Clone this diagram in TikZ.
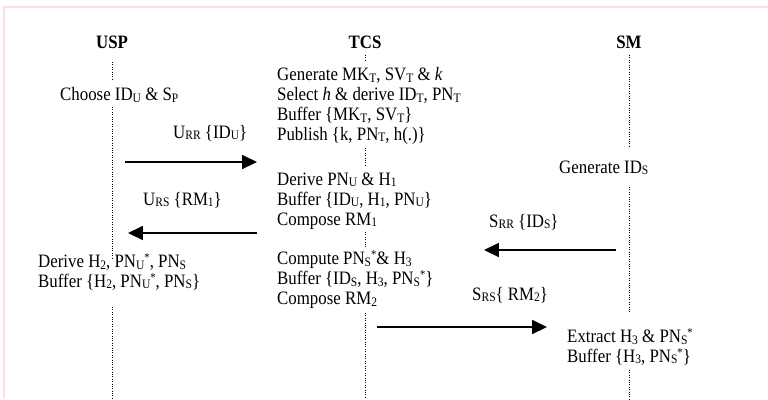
\documentclass[tikz,border=0pt]{standalone}
\usepackage{fontspec}
\setmainfont{Liberation Serif}[FakeStretch=0.89]
\usetikzlibrary{arrows.meta}
\newcommand{\sub}[1]{\raisebox{-1.5bp}{\fontsize{13}{13}\selectfont #1}}
\newcommand{\st}{\raisebox{6bp}{\fontsize{12}{12}\selectfont *}}
\tikzset{
  party/.style={font=\fontsize{19}{20}\selectfont\bfseries, inner sep=0pt},
  action/.style={font=\fontsize{19}{20}\selectfont, align=left, anchor=west, inner sep=0pt},
  msglabel/.style={font=\fontsize{19}{20}\selectfont, anchor=west, inner sep=0pt},
  lifeline/.style={line width=1pt, dash pattern=on 1pt off 1.4pt},
  msgarrow/.style={-{Triangle[length=15pt, width=14pt]}, line width=2pt},
  frameline/.style={draw=red!12, line width=1.5pt}
}
\begin{document}
\begin{tikzpicture}[x=1bp, y=-1bp]
  \useasboundingbox (0,0) rectangle (768,399);
  \draw[frameline] (4,399) -- (4,7) -- (768,7);

  % parties
  \node[party] (usp) at (112,42) {USP};
  \node[party] (tcs) at (365,42) {TCS};
  \node[party] (sm) at (629,42) {SM};

  % lifelines
  \foreach \x/\a/\b in {112/62/79, 112/107/258, 112/307/399,
                        365/55/62, 365/148/165, 365/232/248, 365/313/399,
                        629/55/147, 629/187/313, 629/370/399}
    \draw[lifeline] (\x,\a) -- (\x,\b);

  % USP side
  \node[action] (uchoose) at (60,95) {Choose ID\sub{U} \& S\sub{P}};
  \node[action] (uderive) at (38,272) {Derive H\sub{2}, PN\sub{U}\st, PN\sub{S}\\
    Buffer \{H\sub{2}, PN\sub{U}\st, PN\sub{S}\}};

  % TCS side
  \node[action] (tsetup) at (277,106) {Generate MK\sub{T}, SV\sub{T} \& \textit{k}\\
    Select \textit{h} \& derive ID\sub{T}, PN\sub{T}\\
    Buffer \{MK\sub{T}, SV\sub{T}\}\\
    Publish \{k, PN\sub{T}, h(.)\}};
  \node[action] (tuser) at (277,201) {Derive PN\sub{U} \& H\sub{1}\\
    Buffer \{ID\sub{U}, H\sub{1}, PN\sub{U}\}\\
    Compose RM\sub{1}};
  \node[action] (tsm) at (277,280) {Compute PN\sub{S}\st\& H\sub{3}\\
    Buffer \{ID\sub{S}, H\sub{3}, PN\sub{S}\st\}\\
    Compose RM\sub{2}};

  % SM side
  \node[action] (sgen) at (559,168) {Generate ID\sub{S}};
  \node[action] (sextract) at (567,347) {Extract H\sub{3} \& PN\sub{S}\st\\
    Buffer \{H\sub{3}, PN\sub{S}\st\}};

  % messages
  \coordinate (urr1) at (125,162);
  \coordinate (urr2) at (257,162);
  \coordinate (urs1) at (257,233);
  \coordinate (urs2) at (128,233);
  \coordinate (srr1) at (616,250);
  \coordinate (srr2) at (484,250);
  \coordinate (srs1) at (377,327);
  \coordinate (srs2) at (547,327);
  \draw[msgarrow] (urr1) -- (urr2);
  \draw[msgarrow] (urs1) -- (urs2);
  \draw[msgarrow] (srr1) -- (srr2);
  \draw[msgarrow] (srs1) -- (srs2);

  \node[msglabel] (urrlbl) at (173,133) {U\sub{RR} \{ID\sub{U}\}};
  \node[msglabel] (urslbl) at (143,200) {U\sub{RS} \{RM\sub{1}\}};
  \node[msglabel] (srrlbl) at (489,222) {S\sub{RR} \{ID\sub{S}\}};
  \node[msglabel] (srslbl) at (472,295) {S\sub{RS}\{ RM\sub{2}\}};
\end{tikzpicture}
\end{document}
